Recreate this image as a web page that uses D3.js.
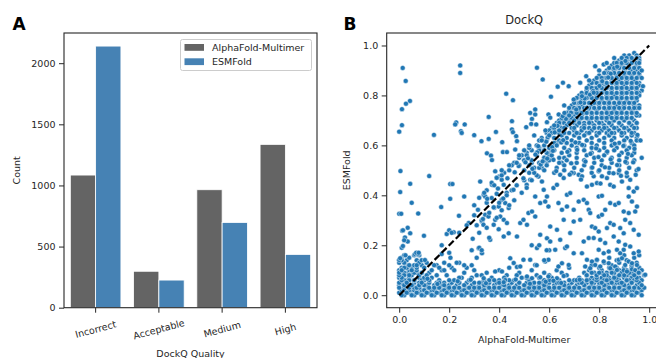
<!DOCTYPE html>
<html><head><meta charset="utf-8">
<script src="https://cdn.jsdelivr.net/npm/d3@7"></script>
<style>body{margin:0;background:#fff}svg{display:block;font-family:"DejaVu Sans",sans-serif}</style>
</head><body><svg id="c" width="656" height="358"></svg>
<script>
// ---------- Panel A data ----------
const categories = ["Incorrect", "Acceptable", "Medium", "High"];
const seriesNames = ["AlphaFold-Multimer", "ESMFold"];
const afCounts = [1085, 298, 965, 1336];
const esmCounts = [2140, 226, 697, 436];
const barYTicks = [0, 500, 1000, 1500, 2000];

// ---------- Panel B data (DockQ: x = AlphaFold-Multimer, y = ESMFold) ----------
const scatterTicks = [0, 0.2, 0.4, 0.6, 0.8, 1.0];
const diagonalLine = [[0, 0], [1, 1]];
const leftPoints = [[.014,.91],[.026,.858],[.043,.778],[.027,.767],[.011,.745],[.011,.681],[.0,.655],[.139,.642],[.244,.92],[.244,.89],[.228,.692],[.224,.684],[.262,.684],[.247,.657],[.25,.65],[.30,.641],[.005,.497],[.12,.477],[.044,.446],[.004,.413],[.204,.445],[.213,.445],[.05,.37],[.26,.395],[.204,.386],[.0,.326],[.008,.326],[.076,.327],[.168,.353],[.239,.318],[.30,.32],[.012,.258],[.044,.248],[.023,.231],[.034,.215],[.099,.238],[.01,.19],[.015,.197],[.0,.141],[.025,.16],[.063,.164],[.075,.164],[.103,.141],[.218,.252],[.278,.289],[.294,.226],[.2,.17],[.205,.15],[.17,.165],[.23,.13],[.26,.12],[.14,.12],[.18,.10],[.29,.18],[.034,.27],[.015,.26],[.02,.22],[.004,.148],[.068,.17],[.078,.17],[.17,.2],[.19,.245],[.2,.26],[.21,.25],[.24,.25],[.27,.28]];
const midPoints = [[.324,.455],[.371,.442],[.384,.496],[.40,.475],[.41,.462],[.418,.442],[.338,.402],[.344,.395],[.37,.389],[.39,.406],[.41,.382],[.424,.369],[.43,.41],[.35,.37],[.398,.355],[.438,.349],[.344,.322],[.357,.315],[.384,.302],[.404,.315],[.331,.295],[.337,.282],[.378,.282],[.418,.302],[.431,.289],[.398,.264],[.438,.248],[.364,.222],[.418,.235],[.318,.188],[.331,.168],[.471,.235],[.484,.289],[.497,.302],[.517,.329],[.531,.335],[.51,.442],[.524,.462],[.557,.475],[.571,.455],[.578,.422],[.591,.395],[.564,.369],[.584,.375],[.597,.355],[.617,.429],[.631,.442],[.644,.482],[.658,.469],[.637,.369],[.651,.342],[.544,.395],[.511,.282],[.544,.315],[.564,.242],[.604,.275],[.631,.262],[.658,.302],[.644,.222],[.591,.228],[.604,.215],[.551,.189],[.624,.182],[.664,.189],[.524,.142],[.544,.121],[.584,.135],[.597,.142],[.637,.115],[.651,.128],[.458,.129],[.471,.113],[.484,.115],[.497,.142],[.444,.148],[.384,.095],[.411,.095],[.511,.075],[.531,.068],[.564,.072],[.597,.075],[.631,.068],[.658,.077],[.338,.068],[.424,.061],[.36,.23],[.32,.19],[.33,.18],[.31,.15],[.55,.12],[.58,.14],[.6,.18],[.59,.18],[.56,.2],[.53,.2]];
const rightPoints = [[.698,.489],[.718,.482],[.731,.476],[.778,.476],[.798,.496],[.811,.476],[.831,.469],[.878,.489],[.891,.455],[.911,.476],[.924,.462],[.751,.435],[.771,.442],[.791,.449],[.844,.442],[.858,.435],[.918,.429],[.938,.415],[.951,.429],[.671,.402],[.684,.409],[.718,.375],[.738,.382],[.751,.369],[.798,.395],[.811,.398],[.844,.369],[.864,.362],[.878,.369],[.918,.395],[.931,.375],[.951,.355],[.671,.355],[.698,.342],[.758,.342],[.764,.329],[.824,.342],[.898,.335],[.918,.329],[.944,.335],[.698,.295],[.724,.302],[.798,.315],[.811,.322],[.844,.289],[.858,.282],[.904,.302],[.924,.289],[.684,.249],[.771,.275],[.784,.269],[.798,.255],[.831,.269],[.884,.269],[.898,.248],[.938,.262],[.958,.242],[.738,.215],[.758,.229],[.778,.229],[.804,.222],[.824,.209],[.858,.235],[.878,.215],[.904,.202],[.924,.195],[.671,.195],[.698,.168],[.731,.168],[.798,.182],[.818,.168],[.838,.175],[.871,.182],[.884,.168],[.898,.182],[.938,.168],[.958,.175],[.751,.142],[.771,.135],[.791,.142],[.818,.135],[.838,.128],[.878,.142],[.891,.148],[.904,.121],[.918,.135],[.931,.128],[.951,.121],[.984,.082],[.678,.121],[.744,.115],[.764,.108],[.784,.121],[.804,.115],[.844,.108],[.864,.115],[.871,.101],[.898,.10],[.911,.095],[.931,.104],[.944,.10],[.958,.09]];
const upperPoints = [[.551,.911],[.574,.864],[.634,.835],[.655,.851],[.607,.795],[.428,.807],[.455,.781],[.358,.714],[.387,.654],[.329,.617],[.358,.626],[.412,.613],[.451,.697],[.451,.664],[.455,.653],[.468,.637],[.471,.617],[.508,.673],[.351,.568],[.367,.559],[.415,.573],[.431,.573],[.464,.583],[.371,.541],[.524,.73],[.531,.706],[.544,.724],[.544,.744],[.528,.686],[.548,.684],[.591,.693],[.597,.724],[.604,.711],[.638,.724],[.654,.717],[.661,.73],[.585,.66],[.6,.64],[.57,.62],[.52,.6],[.5,.58],[.48,.56],[.54,.64],[.62,.68],[.64,.66],[.58,.58],[.47,.53],[.44,.52],[.41,.5],[.39,.47],[.678,.837],[.724,.851],[.748,.877],[.784,.917],[.818,.924],[.751,.751],[.731,.797],[.698,.784],[.778,.811],[.70,.70],[.66,.76],[.68,.72],[.76,.86],[.80,.90],[.83,.93],[.86,.95],[.975,.837],[.97,.90],[.965,.62],[.97,.55]];
const looseClusterPoints = [[.612,.593],[.673,.574],[.705,.612],[.745,.535],[.788,.588],[.823,.512],[.862,.607],[.905,.534],[.941,.586],[.957,.505],[.566,.523],[.628,.497],[.688,.528],[.727,.463],[.765,.566],[.805,.447],[.846,.544],[.887,.478],[.926,.618],[.953,.642],[.592,.547],[.648,.612],[.712,.582],[.772,.511],[.832,.575],[.872,.521],[.915,.566],[.946,.482],[.552,.572],[.617,.542],[.682,.483],[.732,.602],[.797,.553],[.857,.488],[.897,.598],[.936,.532],[.315,.342],[.352,.386],[.395,.427],[.433,.468],[.478,.517],[.515,.548],[.556,.597],[.594,.632],[.633,.678],[.667,.706],[.708,.744],[.742,.788],[.776,.818],[.812,.857],[.846,.887],[.872,.915],[.905,.938],[.335,.305],[.378,.352],[.416,.387],[.457,.422],[.497,.468],[.533,.506],[.574,.536],[.615,.578],[.656,.621],[.462,.492],[.505,.532],[.545,.563],[.588,.615],[.622,.652],[.687,.731],[.725,.772],[.763,.803],[.801,.838],[.836,.872],[.153,.045],[.234,.056],[.347,.048],[.418,.052],[.523,.046],[.586,.054],[.648,.049],[.722,.062],[.113,.066],[.286,.062],[.466,.063],[.617,.058]];
// dense regions, each code "xxyy" = x and y in hundredths
const diagCodes = "3036 3239 3542 3745 3947 4249 4450 4653 4855 5157 5358 5560 5763 5965 6167 6369 6570 6773 6975 7177 7379 7581 7783 7985 8187 8389 8591 8793 3441 3844 4148 4552 4956 5259 5662 6066 6468 6872 7276 7680 8084 8488 8892 3128 3330 3633 3835 4037 4340 4542 4744 5046 5249 5451 5653 5855 6057 3225 3527 3931 4134 4436 4638 4941 5143 5346 5548 5751 5953 6155 4852 5054 5156 5353 5557 5659 5854 6056 6158 6361 6553 6655";
const clusterCodes = "9096 9296 9497 9596 9695 8894 9093 9194 9394 9593 9694 8994 8592 8791 8992 9091 9292 9491 9592 9691 8693 8390 8589 8690 8889 9090 9189 9390 9489 9590 9689 8791 8088 8287 8488 8587 8788 8987 9088 9287 9388 9587 9688 8389 7886 8085 8186 8385 8586 8685 8886 9085 9186 9385 9486 9685 8284 7684 7883 8084 8183 8384 8583 8784 8883 9084 9183 9384 9483 9684 9782 7582 7781 7982 8081 8282 8481 8582 8781 8982 9081 9282 9381 9582 9681 7480 7280 7479 7680 7879 7980 8179 8380 8479 8680 8879 8980 9179 9380 9479 9680 7078 7277 7478 7677 7878 7977 8178 8377 8478 8677 8878 8977 9178 9377 9578 9676 6976 7175 7376 7575 7776 7875 8076 8275 8476 8575 8776 8975 9076 9275 9476 9575 6874 7073 7274 7473 7674 7773 7974 8173 8374 8473 8674 8873 8974 9173 9374 9473 9672 6672 6871 7072 7271 7372 7571 7772 7971 8172 8271 8472 8671 8772 8971 9172 9371 9572 6470 6669 6870 7069 7270 7469 7670 7769 7970 8169 8370 8569 8670 8869 9070 9269 9470 9569 6368 6567 6768 6967 7168 7367 7468 7667 7868 8067 8268 8367 8568 8767 8968 9167 9368 9567 6266 6465 6666 6865 7066 7265 7366 7565 7766 7965 8166 8365 8466 8665 8866 9065 9266 9465 6064 6263 6564 6763 7064 7263 7464 7763 7964 8263 8464 8663 8964 9163 9364 9563 5962 6261 6462 6761 6962 7261 7562 7761 8062 8261 8562 8861 9062 9361 9562 5860 6059 6360 6659 6960 7159 7460 7759 7960 8259 8560 8759 9060 9259 9460 5658 5957 6258 6557 6858 7157 7458 7757 8058 8357 8658 8957 9158 9457 5556 5855 6156 6455 6856 7155 7556 7855 8256 8555 8856 9155 9356 5354 5753 6054 6453 6754 7153 7454 7853 8154 8553 8854 9153 9454 5252 5651 5952 6351 6652 7051 7452 7751 8152 8451 8852 9251 5050 5449 5850 6249 6650 6949 7350 7749 8050 8449 8850 9149 9550";
const clusterCodes2 = "9195 9395 9595 8995 8793 8993 9193 9393 9593 9693 8491 8691 8891 9091 9291 9491 9691 8289 8489 8689 8889 9089 9289 9489 9689 7987 8187 8387 8587 8787 8987 9187 9387 9587 9787 7785 7985 8185 8385 8585 8785 8985 9185 9385 9585 7583 7783 7983 8183 8383 8583 8783 8983 9183 9383 9583 7381 7581 7781 7981 8181 8381 8581 8781 8981 9181 9381 9581 7179 7379 7579 7779 7979 8179 8379 8579 8779 8979 9179 9379 9579 7077 7277 7477 7677 7877 8077 8277 8477 8677 8877 9077 9277 9477 6875 7075 7275 7475 7675 7875 8075 8275 8475 8675 8875 9075 9275 9475 9675 6773 6973 7173 7373 7573 7773 7973 8173 8373 8573 8773 8973 9173 9373 9573 6571 6771 6971 7171 7371 7571 7771 7971 8171 8371 8571 8771 8971 9171 9371 6469 6869 7269 7669 8069 8469 8869 9269 9569 6267 6667 7067 7467 7867 8267 8667 9067 9467 6165 6665 7165 7665 8065 8565 8965 9365";
const bandCodes = "0001 0102 0200 0303 0401 0502 0600 0703 0801 0902 1000 1103 1201 1302 1400 1503 1601 1702 1800 1903 2001 2102 2200 2303 2401 2502 2600 2703 2801 2902 3000 3103 3201 3302 3400 3503 3601 3702 3800 3903 4001 4102 4200 4303 4401 4502 4600 4703 4801 4902 5000 5103 5201 5302 5400 5503 5601 5702 5800 5903 6001 6102 6200 6303 6401 6502 6600 6703 6801 6902 7000 7103 7201 7302 7400 7503 7601 7702 7800 7903 8001 8102 8200 8303 8401 8502 8600 8703 8801 8902 9000 9103 9201 9302 9400 9503 9601 9702 0004 0105 0203 0306 0402 0504 0605 0702 0804 0905 1002 1104 1205 1404 1505 1603 1704 1805 1902 2004 2105 2203 2304 2405 2604 2705 2803 2904 3005 3102 3204 3305 3403 3504 3605 3804 3905 4003 4104 4205 4302 4404 4505 4603 4704 4805 5004 5105 5203 5304 5405 5502 5604 5705 5803 5904 6005 6204 6305 6403 6504 6605 6702 6804 6905 7003 7104 7205 7404 7505 7603 7704 7805 7902 8004 8105 8203 8304 8405 8502 8604 8705 8803 8904 9005 9102 9204 9305 9403 9504 9605 9803 0007 0108 0206 0309 0407 0508 0606 0709 0807 1006 1307 1606 1908 2206 2507 2806 3108 3406 3707 4006 4308 4606 4907 5206 5508 5806 6107 6406 6708 7006 7207 7306 7508 7606 7707 7806 7908 8006 8107 8206 8308 8407 8506 8608 8707 8806 8908 9007 9106 9208 9307 9406 9508 9607 9706 0010 0111 0209 0312 0410 0511 0609 0710 0808 7409 7610 7809 8011 8110 8309 8411 8510 8609 8711 8810 8909 9011 9110 9209 9311 9410 9509 9611 9710 9808 1209 1710 2111 2609 3010 3509 4010 4411 4809 5310 5809 6310 6811 7712 7914 8213 8415 8512 8714 8813 9016 9114 9312 9415 9513 9616 0912 1011 1113 1310 1512 1611 1813 2012 2210 2413 2711 2912 0014 0115 0216 0314 0415 0616 0816 0714 0013 0110 0213 0311 0412 0711 0906 0909 1007 1108 0813 0914";
const bandCodes2 = "0003 0100 0202 0301 0403 0500 0602 0701 0803 0900 1002 1101 1203 1300 1402 1501 1603 1700 1802 1901 2003 2100 2202 2301 2403 2500 2602 2701 2803 2900 3002 3101 3203 3300 3402 3501 3603 3700 3802 3901 4003 4100 4202 4301 4403 4500 4602 4701 4803 4900 5002 5101 5203 5300 5402 5501 5603 5700 5802 5901 6003 6100 6202 6301 6403 6500 6602 6701 6803 6900 7002 7101 7203 7300 7402 7501 7603 7700 7802 7901 8003 8100 8202 8301 8403 8500 8602 8701 8803 8900 9002 9101 9203 9300 9402 9501 9603 9700 0005 0204 0406 0603 0805 1004 1206 1403 1605 1804 2006 2203 2405 2604 2806 3003 3205 3404 3606 3803 4005 4204 4406 4603 4805 5004 5206 5403 5605 5804 6006 6203 6405 6604 6806 7003 7205 7404 7606 7803 8005 8204 8406 8603 8805 9004 9206 9403 9605 9704 7106 7305 7506 7705 7906 8105 8306 8505 8706 8905 9106 9305 9506 7508 7709 7907 8109 8308 8509 8707 8909 9108 9309 9507 9609 8208 8607 9008 9408 7908 8009 8808 9209 0106 0209 0305 0408 0606 0208 0107 0510 0311 0612 0712 0412 0114 0211 0008 0009 0110 0504 0703 0804 0905 1508 2407 3308 4207 5107 6008 6509 2907 3806 4708 5607";

function decode(s) { return s.trim().split(/\s+/).map(c => [+c.slice(0, 2) / 100, +c.slice(2, 4) / 100]); }
const scatterPoints = [].concat(decode(bandCodes), decode(bandCodes2), leftPoints, midPoints, rightPoints,
  decode(diagCodes), decode(clusterCodes), decode(clusterCodes2), looseClusterPoints, upperPoints);

// ---------- drawing ----------
const svg = d3.select("#c");
const FS = 9.5, INK = "#262626";
const axStyle = g => {
  g.select(".domain").remove();
  g.selectAll("line").attr("stroke", INK).attr("stroke-width", 1);
  g.selectAll("text").attr("fill", INK).attr("font-size", FS).attr("font-family", "DejaVu Sans");
};

// Panel A
const A = {l: 64, r: 317, t: 33, b: 307.7};
const x0 = d3.scaleBand().domain(categories).range([A.l, A.r]).paddingInner(0.2).paddingOuter(0.1);
const x1 = d3.scaleBand().domain(seriesNames).range([0, x0.bandwidth()]);
const yA = d3.scaleLinear().domain([0, d3.max(afCounts.concat(esmCounts)) * 1.05]).range([A.b, A.t]);
const barColors = d3.scaleOrdinal().domain(seriesNames).range(["#646464", "#4682b4"]);
const barData = categories.flatMap((c, i) => [{c, s: seriesNames[0], v: afCounts[i]}, {c, s: seriesNames[1], v: esmCounts[i]}]);
const gA = svg.append("g");
gA.selectAll("rect.bar").data(barData).join("rect").attr("class", "bar")
  .attr("x", d => x0(d.c) + x1(d.s)).attr("y", d => yA(d.v))
  .attr("width", x1.bandwidth()).attr("height", d => yA(0) - yA(d.v))
  .attr("fill", d => barColors(d.s)).attr("stroke", "#fff").attr("stroke-width", 0.8);
gA.append("g").attr("transform", `translate(${A.l},0)`)
  .call(d3.axisLeft(yA).tickValues(barYTicks).tickFormat(d3.format("d")).tickSize(5).tickPadding(3.5)).call(axStyle);
const gxA = gA.append("g").attr("transform", `translate(0,${A.b})`)
  .call(d3.axisBottom(x0).tickSize(5)).call(axStyle);
gxA.selectAll("text").attr("y", 0).attr("dy", null).attr("dominant-baseline", "central")
  .attr("transform", "translate(0,21.5) rotate(-15)");
gA.append("rect").attr("x", A.l).attr("y", A.t).attr("width", A.r - A.l).attr("height", A.b - A.t)
  .attr("fill", "none").attr("stroke", INK).attr("stroke-width", 1.1);
// legend
const lg = gA.append("g");
lg.append("rect").attr("x", 180.5).attr("y", 39.5).attr("width", 131).attr("height", 31).attr("rx", 2)
  .attr("fill", "#fff").attr("fill-opacity", 0.8).attr("stroke", "#ccc").attr("stroke-width", 1);
seriesNames.forEach((s, i) => {
  lg.append("rect").attr("x", 184.5).attr("y", 44 + i * 14.3).attr("width", 19.5).attr("height", 6.8).attr("fill", barColors(s));
  lg.append("text").attr("x", 212).attr("y", 50.5 + i * 14.3).attr("font-size", FS).attr("fill", INK).text(s);
});
gA.append("text").attr("x", 16.5).attr("y", (A.t + A.b) / 2).attr("transform", `rotate(-90,16.5,${(A.t + A.b) / 2})`)
  .attr("text-anchor", "middle").attr("dominant-baseline", "central").attr("font-size", FS).attr("fill", INK).text("Count");
gA.append("text").attr("x", (A.l + A.r) / 2).attr("y", 356.5).attr("text-anchor", "middle")
  .attr("font-size", FS).attr("fill", INK).text("DockQ Quality");
svg.append("text").attr("x", 12.5).attr("y", 30).attr("font-size", 17).attr("font-weight", "bold").attr("fill", "#000").text("A");

// Panel B
const B = {l: 386.7, t: 33, b: 307.7};
const xB = d3.scaleLinear().domain([-0.05, 1.05]).range([B.l, B.l + 275]);
const yB = d3.scaleLinear().domain([-0.05, 1.05]).range([B.b, B.t]);
const gB = svg.append("g");
gB.selectAll("circle").data(scatterPoints).join("circle")
  .attr("cx", d => xB(d[0])).attr("cy", d => yB(d[1])).attr("r", 2.5)
  .attr("fill", "#2077b4").attr("stroke", "#fff").attr("stroke-width", 0.45);
gB.append("path").datum(diagonalLine)
  .attr("d", d3.line().x(d => xB(d[0])).y(d => yB(d[1])))
  .attr("stroke", "#000").attr("stroke-width", 2.2).attr("stroke-dasharray", "7,3").attr("fill", "none");
gB.append("g").attr("transform", `translate(${B.l},0)`)
  .call(d3.axisLeft(yB).tickValues(scatterTicks).tickFormat(d3.format(".1f")).tickSize(5).tickPadding(3.5)).call(axStyle);
gB.append("g").attr("transform", `translate(0,${B.b})`)
  .call(d3.axisBottom(xB).tickValues(scatterTicks).tickFormat(d3.format(".1f")).tickSize(5).tickPadding(3.5)).call(axStyle);
gB.append("rect").attr("x", B.l).attr("y", B.t).attr("width", 275).attr("height", B.b - B.t)
  .attr("fill", "none").attr("stroke", INK).attr("stroke-width", 1.1);
gB.append("text").attr("x", B.l + 137.5).attr("y", 24).attr("text-anchor", "middle")
  .attr("font-size", 11.5).attr("fill", INK).text("DockQ");
gB.append("text").attr("x", 346.5).attr("y", (B.t + B.b) / 2).attr("transform", `rotate(-90,346.5,${(B.t + B.b) / 2})`)
  .attr("text-anchor", "middle").attr("dominant-baseline", "central").attr("font-size", FS).attr("fill", INK).text("ESMFold");
gB.append("text").attr("x", B.l + 137.5).attr("y", 342.5).attr("text-anchor", "middle")
  .attr("font-size", FS).attr("fill", INK).text("AlphaFold-Multimer");
svg.append("text").attr("x", 343.5).attr("y", 30).attr("font-size", 17).attr("font-weight", "bold").attr("fill", "#000").text("B");
</script></body></html>
